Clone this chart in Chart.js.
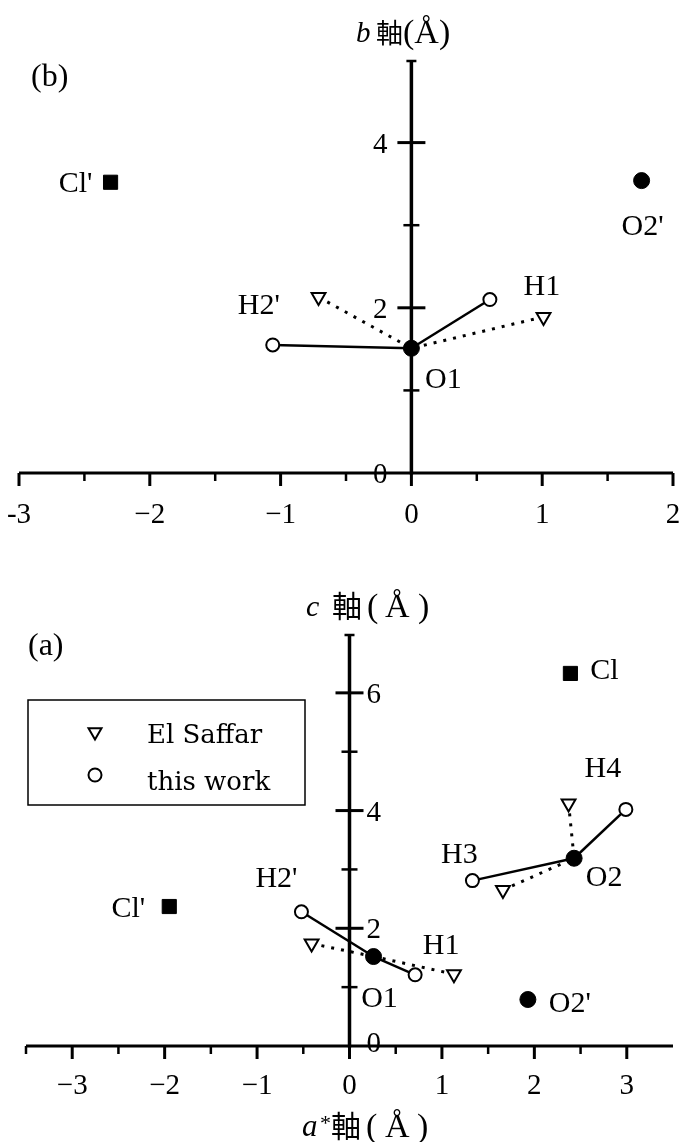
<!DOCTYPE html>
<html lang="ja">
<head>
<meta charset="utf-8">
<title>O–H positions</title>
<script src="https://cdn.jsdelivr.net/npm/chart.js@4.4.1/dist/chart.umd.min.js"></script>
<style>
  html, body { margin: 0; padding: 0; background: #fff; }
  #wrap { position: relative; width: 684px; height: 1142px; overflow: hidden; background: #fff; }
  canvas { position: absolute; left: 0; }
  #panelB { top: 0; }
  #panelA { top: 560px; }
</style>
</head>
<body>
<div id="wrap">
  <canvas id="panelB" width="684" height="560"></canvas>
  <canvas id="panelA" width="684" height="582"></canvas>
</div>
<script>
// ---- panel (b): projection on the a-b plane, Å ----
const bRangeX = [-3, 2];
const bRangeY = [0, 5];
const bMajorX = [-3, -2, -1, 0, 1, 2];
const bMajorXText = ['-3', '−2', '−1', '0', '1', '2'];
const bMinorX = [-2.5, -1.5, -0.5, 0.5, 1.5];
const bMajorY = [0, 2, 4];
const bMajorYText = ['0', '2', '4'];
const bMinorY = [1, 3];

const bOxygen = [{x: 0, y: 1.51}, {x: 1.76, y: 3.54}];
const bOxygenNames = ['O1', "O2'"];
const bChlorine = [{x: -2.30, y: 3.52}];
const bChlorineNames = ["Cl'"];
const bThisWork = [{x: -1.06, y: 1.55}, {x: 0.60, y: 2.10}];
const bElSaffar = [{x: -0.71, y: 2.13}, {x: 1.01, y: 1.89}];
const bHydrogenNames = ["H2'", 'H1'];
const bBondTo = [0, 0];   // which oxygen each H belongs to

// ---- panel (a): projection on the a*-c plane, Å ----
const aRangeX = [-3.5, 3.5];
const aRangeY = [0, 7];
const aMajorX = [-3, -2, -1, 0, 1, 2, 3];
const aMajorXText = ['−3', '−2', '−1', '0', '1', '2', '3'];
const aMinorX = [-3.5, -2.5, -1.5, -0.5, 0.5, 1.5, 2.5];
const aMajorY = [0, 2, 4, 6];
const aMajorYText = ['0', '2', '4', '6'];
const aMinorY = [1, 3, 5];

const aOxygen = [{x: 0.26, y: 1.52}, {x: 2.43, y: 3.19}, {x: 1.93, y: 0.79}];
const aOxygenNames = ['O1', 'O2', "O2'"];
const aChlorine = [{x: 2.39, y: 6.33}, {x: -1.95, y: 2.37}];
const aChlorineNames = ['Cl', "Cl'"];
const aThisWork = [{x: -0.52, y: 2.28}, {x: 0.71, y: 1.21}, {x: 1.33, y: 2.81}, {x: 2.99, y: 4.02}];
const aElSaffar = [{x: -0.41, y: 1.74}, {x: 1.13, y: 1.22}, {x: 1.66, y: 2.65}, {x: 2.37, y: 4.12}];
const aHydrogenNames = ["H2'", 'H1', 'H3', 'H4'];
const aBondTo = [0, 0, 1, 1];

const INK = '#000';
const SERIF = '"Liberation Serif", "Times New Roman", serif';
const CJK = '"Noto Sans CJK JP", sans-serif';
const TICK_FONT = '29px ' + SERIF;
const TAG_FONT = '30px ' + SERIF;
const LEGEND_FONT = '26px "DejaVu Serif", serif';

// where each atom name sits relative to its marker (px); H names hang off the open circle
const bTagPos = {'O1': [32, 30], "O2'": [1, 44], "Cl'": [-35, 0], "H2'": [-14, -41], 'H1': [52, -15]};
const aTagPos = {'O1': [6, 40], 'O2': [30, 18], "O2'": [42, 2], 'Cl': [34, -4], "Cl'": [-41, 0],
                 "H2'": [-25, -35], 'H1': [26, -31], 'H3': [-13, -28], 'H4': [-23, -42]};

function bondSets(hs, oxy, bondTo, dotted) {
  return hs.map((h, i) => ({
    type: 'line',
    data: [h, oxy[bondTo[i]]],
    borderColor: INK,
    borderWidth: dotted ? 3 : 2.5,
    borderDash: dotted ? [3, 7] : [],
    pointRadius: 0,
    fill: false,
    clip: false,
    order: 3
  }));
}

function atomSets(oxy, cl, mine, saffar) {
  return [
    {label: 'El Saffar', data: saffar, pointStyle: 'triangle', pointRotation: 180, pointRadius: 8,
     pointBorderWidth: 2, pointBorderColor: INK, pointBackgroundColor: '#fff', clip: false, order: 2},
    {label: 'this work', data: mine, pointStyle: 'circle', pointRadius: 6.5,
     pointBorderWidth: 2, pointBorderColor: INK, pointBackgroundColor: '#fff', clip: false, order: 2},
    {label: 'O', data: oxy, pointStyle: 'circle', pointRadius: 8,
     pointBorderWidth: 1, pointBorderColor: INK, pointBackgroundColor: INK, clip: false, order: 1},
    {label: 'Cl', data: cl, pointStyle: 'rect', pointRadius: 10,
     pointBorderWidth: 1, pointBorderColor: INK, pointBackgroundColor: INK, clip: false, order: 1}
  ];
}

// pieces of mixed-font text at fixed x positions on one baseline
function drawRun(ctx, pieces) {
  ctx.textAlign = 'left';
  ctx.textBaseline = 'alphabetic';
  pieces.forEach(p => { ctx.font = p.font; ctx.fillText(p.t, p.x, p.y); });
}

function line(ctx, x1, y1, x2, y2, w) {
  ctx.lineWidth = w;
  ctx.beginPath(); ctx.moveTo(x1, y1); ctx.lineTo(x2, y2); ctx.stroke();
}

// axes crossing at the origin, with tick marks, numbers, titles and atom names
function originAxes(cfg) {
  return {
    id: 'originAxes',
    beforeDatasetsDraw(chart) {
      const {ctx, scales: {x, y}} = chart;
      const x0 = x.getPixelForValue(0), y0 = y.getPixelForValue(0);
      ctx.save();
      ctx.strokeStyle = INK;
      ctx.lineCap = 'butt';
      line(ctx, x.getPixelForValue(x.min), y0, x.getPixelForValue(x.max), y0, 3);
      line(ctx, x0, y0 + 1.5, x0, y.getPixelForValue(y.max), 3.5);
      const yTop = y.getPixelForValue(y.max);
      line(ctx, x0 - 5, yTop + 1, x0 + 5, yTop + 1, 2.5);
      cfg.majorX.forEach(v => { const px = x.getPixelForValue(v); line(ctx, px, y0, px, y0 + 13, 3); });
      cfg.minorX.forEach(v => { const px = x.getPixelForValue(v); line(ctx, px, y0, px, y0 + 8, 2.5); });
      cfg.majorY.forEach(v => { if (v === 0) return; const py = y.getPixelForValue(v); line(ctx, x0 - 14, py, x0 + 14, py, 3); });
      cfg.minorY.forEach(v => { const py = y.getPixelForValue(v); line(ctx, x0 - 8, py, x0 + 8, py, 2.5); });

      ctx.fillStyle = INK;
      ctx.font = TICK_FONT;
      ctx.textBaseline = 'alphabetic';
      ctx.textAlign = 'center';
      cfg.majorX.forEach((v, i) => ctx.fillText(cfg.majorXText[i], x.getPixelForValue(v), cfg.xTextBase));
      ctx.textAlign = cfg.yTextSide < 0 ? 'right' : 'left';
      cfg.majorY.forEach((v, i) => {
        const dy = v === 0 ? cfg.yZeroDy : 10;
        ctx.fillText(cfg.majorYText[i], x0 + cfg.yTextSide, y.getPixelForValue(v) + dy);
      });
      cfg.titles.forEach(run => drawRun(ctx, run));
      ctx.restore();
    },
    afterDatasetsDraw(chart) {
      const {ctx, scales: {x, y}} = chart;
      ctx.save();
      ctx.fillStyle = INK;
      ctx.font = TAG_FONT;
      ctx.textAlign = 'center';
      ctx.textBaseline = 'alphabetic';
      const tag = (pt, name) => {
        const off = cfg.tagPos[name];
        ctx.fillText(name, x.getPixelForValue(pt.x) + off[0], y.getPixelForValue(pt.y) + off[1] + 10);
      };
      cfg.oxy.forEach((p, i) => tag(p, cfg.oxyNames[i]));
      cfg.cl.forEach((p, i) => tag(p, cfg.clNames[i]));
      cfg.mine.forEach((p, i) => tag(p, cfg.hNames[i]));

      if (cfg.legend) {
        const L = cfg.legend;
        ctx.strokeStyle = INK;
        ctx.lineWidth = 1.5;
        ctx.strokeRect(L.x, L.y, L.w, L.h);
        // triangle (El Saffar)
        const r = 7.5, tx = L.x + 67, ty = L.y + 32;
        ctx.lineWidth = 2;
        ctx.beginPath();
        ctx.moveTo(tx, ty + r);
        ctx.lineTo(tx - r * 0.866, ty - r / 2);
        ctx.lineTo(tx + r * 0.866, ty - r / 2);
        ctx.closePath();
        ctx.stroke();
        // circle (this work)
        ctx.beginPath();
        ctx.arc(L.x + 67, L.y + 75, 6.5, 0, Math.PI * 2);
        ctx.stroke();
        ctx.font = LEGEND_FONT;
        ctx.textAlign = 'left';
        ctx.fillText('El Saffar', L.x + 119, L.y + 43);
        ctx.fillText('this work', L.x + 119, L.y + 90);
      }
      ctx.restore();
    }
  };
}

function makeChart(id, cfg) {
  return new Chart(document.getElementById(id), {
    type: 'scatter',
    data: {
      datasets: [
        ...bondSets(cfg.mine, cfg.oxy, cfg.bondTo, false),
        ...bondSets(cfg.saffar, cfg.oxy, cfg.bondTo, true),
        ...atomSets(cfg.oxy, cfg.cl, cfg.mine, cfg.saffar)
      ]
    },
    options: {
      responsive: false,
      animation: false,
      devicePixelRatio: 1,
      layout: {padding: cfg.padding},
      scales: {
        x: {type: 'linear', min: cfg.rangeX[0], max: cfg.rangeX[1], display: false},
        y: {type: 'linear', min: cfg.rangeY[0], max: cfg.rangeY[1], display: false}
      },
      elements: {line: {tension: 0}},
      plugins: {legend: {display: false}, tooltip: {enabled: false}}
    },
    plugins: [originAxes(cfg)]
  });
}

makeChart('panelB', {
  rangeX: bRangeX, rangeY: bRangeY,
  padding: {left: 19, right: 7, top: 60, bottom: 87},
  majorX: bMajorX, majorXText: bMajorXText, minorX: bMinorX,
  majorY: bMajorY, majorYText: bMajorYText, minorY: bMinorY,
  xTextBase: 523, yTextSide: -24, yZeroDy: 10,
  oxy: bOxygen, oxyNames: bOxygenNames, cl: bChlorine, clNames: bChlorineNames,
  mine: bThisWork, saffar: bElSaffar, hNames: bHydrogenNames, bondTo: bBondTo,
  tagPos: bTagPos,
  titles: [
    [{t: '(b)', font: '32px ' + SERIF, x: 31, y: 86}],
    [{t: 'b', font: 'italic 29px ' + SERIF, x: 356, y: 42},
     {t: '軸', font: '27px ' + CJK, x: 376, y: 43},
     {t: '(Å)', font: '34px ' + SERIF, x: 403, y: 43}]
  ]
});

makeChart('panelA', {
  rangeX: aRangeX, rangeY: aRangeY,
  padding: {left: 26, right: 0, top: 74, bottom: 96},
  majorX: aMajorX, majorXText: aMajorXText, minorX: aMinorX,
  majorY: aMajorY, majorYText: aMajorYText, minorY: aMinorY,
  xTextBase: 534, yTextSide: 17, yZeroDy: 6,
  oxy: aOxygen, oxyNames: aOxygenNames, cl: aChlorine, clNames: aChlorineNames,
  mine: aThisWork, saffar: aElSaffar, hNames: aHydrogenNames, bondTo: aBondTo,
  tagPos: aTagPos,
  legend: {x: 28, y: 140, w: 277, h: 105},
  titles: [
    [{t: '(a)', font: '32px ' + SERIF, x: 28, y: 95}],
    [{t: 'c', font: 'italic 30px ' + SERIF, x: 306, y: 56},
     {t: '軸', font: '30px ' + CJK, x: 332, y: 57},
     {t: '(', font: '34px ' + SERIF, x: 367, y: 57},
     {t: 'Å', font: '34px ' + SERIF, x: 385, y: 57},
     {t: ')', font: '34px ' + SERIF, x: 418, y: 57}],
    [{t: 'a', font: 'italic 31px ' + SERIF, x: 302, y: 576},
     {t: '*', font: '22px ' + SERIF, x: 320, y: 570},
     {t: '軸', font: '30px ' + CJK, x: 331, y: 577},
     {t: '(', font: '34px ' + SERIF, x: 366, y: 577},
     {t: 'Å', font: '34px ' + SERIF, x: 385, y: 577},
     {t: ')', font: '34px ' + SERIF, x: 417, y: 577}]
  ]
});
</script>
</body>
</html>
